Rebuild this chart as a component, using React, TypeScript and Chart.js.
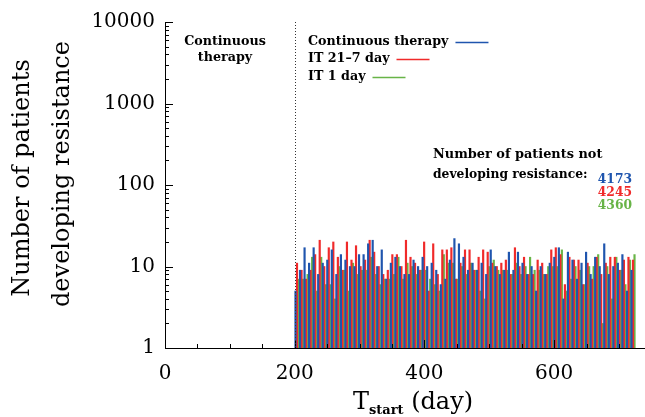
import React, { useEffect, useRef } from 'react';
import { Chart, registerables } from 'chart.js';
Chart.register(...registerables);

// T_start (day) of each 7-day bin
const tStart = [
  200, 207, 214, 221, 228, 235, 242, 249, 256, 263, 270, 277, 284, 291, 298,
  305, 312, 319, 326, 333, 340, 347, 354, 361, 368, 375, 382, 389, 396, 403,
  410, 417, 424, 431, 438, 445, 452, 459, 466, 473, 480, 487, 494, 501, 508,
  515, 522, 529, 536, 543, 550, 557, 564, 571, 578, 585, 592, 599, 606, 613,
  620, 627, 634, 641, 648, 655, 662, 669, 676, 683, 690, 697, 704, 711, 718,
];

const continuous = [
  5, 9, 17, 11, 17, 8, 11, 12, 16, 8, 14, 12, 10, 10, 14,
  14, 19, 21, 10, 16, 7, 11, 13, 10, 8, 8, 12, 10, 13, 10,
  11, 9, 6, 7, 12, 22, 19, 13, 9, 11, 9, 11, 8, 16, 10,
  8, 9, 15, 9, 15, 11, 8, 10, 5, 10, 8, 11, 13, 17, 4,
  15, 12, 7, 11, 15, 8, 13, 10, 19, 8, 10, 11, 14, 5, 9,
];

const it21_7 = [
  11, 9, 7, 9, 14, 21, 10, 17, 20, 13, 9, 20, 12, 18, 10,
  12, 21, 15, 10, 8, 9, 14, 14, 10, 21, 13, 11, 9, 20, 5,
  19, 8, 16, 16, 17, 7, 11, 16, 16, 9, 13, 16, 15, 11, 10,
  11, 12, 8, 17, 10, 13, 8, 8, 12, 11, 8, 16, 17, 14, 6,
  13, 12, 12, 6, 11, 7, 13, 8, 11, 13, 13, 9, 12, 13, 12,
];

const it1 = [
  7, 7, 8, 13, 5, 13, 6, 6, 4, 10, 9, 5, 11, 8, 9,
  9, 13, 8, 6, 7, 7, 8, 13, 7, 11, 10, 8, 9, 9, 7,
  6, 5, 14, 11, 11, 7, 10, 8, 11, 9, 5, 4, 10, 12, 9,
  9, 9, 8, 11, 8, 10, 13, 9, 9, 8, 10, 10, 10, 16, 5,
  7, 10, 9, 6, 10, 10, 14, 2, 10, 4, 13, 9, 6, 12, 14,
];

const seriesLabels = ['Continuous therapy', 'IT 21\u20137 day', 'IT 1 day'];
const notResistant = ['4173', '4245', '4360'];
const xTicks = [0, 200, 400, 600];
const yTicks = [1, 10, 100, 1000, 10000];
const switchDay = 200;

const BLUE = '#1f55ae';
const RED = '#f02a2a';
const GREEN = '#68b447';
const COLORS = [BLUE, RED, GREEN];

const SERIF = '"DejaVu Serif", "Liberation Serif", serif';
const BINW = 7;

const decorPlugin = {
  id: 'decor',
  afterDraw(chart: any) {
    const ctx = chart.ctx as CanvasRenderingContext2D;
    const { left, right, top, bottom } = chart.chartArea;
    const xs = chart.scales.x;
    const ys = chart.scales.y;
    ctx.save();
    ctx.strokeStyle = '#000';
    ctx.lineWidth = 1;
    // axes
    ctx.beginPath();
    ctx.moveTo(left + 0.5, top);
    ctx.lineTo(left + 0.5, bottom + 0.5);
    ctx.lineTo(right, bottom + 0.5);
    ctx.stroke();
    // y ticks
    ctx.beginPath();
    for (let k = 0; k < 4; k++) {
      for (let m = 1; m <= 10; m++) {
        const v = m * Math.pow(10, k);
        const py = Math.round(ys.getPixelForValue(v)) + 0.5;
        const len = m === 1 || m === 10 ? 8 : 4;
        ctx.moveTo(left, py);
        ctx.lineTo(left + len, py);
      }
    }
    // x ticks
    for (let v = 0; v <= xs.max; v += 50) {
      const px = Math.round(xs.getPixelForValue(v)) + 0.5;
      const len = v % 200 === 0 ? 8 : 4;
      ctx.moveTo(px, bottom);
      ctx.lineTo(px, bottom - len);
    }
    ctx.stroke();
    // dotted line at switch
    const dx = Math.round(xs.getPixelForValue(switchDay)) + 0.5;
    ctx.setLineDash([1, 2]);
    ctx.strokeStyle = '#333';
    ctx.beginPath();
    ctx.moveTo(dx, top);
    ctx.lineTo(dx, bottom);
    ctx.stroke();
    ctx.setLineDash([]);

    // annotations
    const small = `bold 12.7px ${SERIF}`;
    ctx.fillStyle = '#000';
    ctx.font = small;
    ctx.textBaseline = 'middle';
    ctx.textAlign = 'center';
    ctx.fillText('Continuous', 225, 42);
    ctx.fillText('therapy', 225, 58);

    ctx.textAlign = 'left';
    const legY = [42, 59, 77];
    seriesLabels.forEach((lab, i) => {
      ctx.fillStyle = '#000';
      ctx.fillText(lab, 308, legY[i]);
      const w = ctx.measureText(lab).width;
      ctx.strokeStyle = COLORS[i];
      ctx.lineWidth = 1.5;
      ctx.beginPath();
      ctx.moveTo(308 + w + 7, legY[i] + 0.5);
      ctx.lineTo(308 + w + 40, legY[i] + 0.5);
      ctx.stroke();
    });

    ctx.fillStyle = '#000';
    ctx.font = `bold 12.9px ${SERIF}`;
    ctx.fillText('Number of patients not', 433, 155);
    ctx.font = `bold 12.3px ${SERIF}`;
    ctx.fillText('developing resistance:', 433, 175);
    ctx.textAlign = 'right';
    ctx.font = `bold 12.3px ${SERIF}`;
    const nY = [180, 193, 206];
    notResistant.forEach((t, i) => {
      ctx.fillStyle = COLORS[i];
      ctx.fillText(t, 632, nY[i]);
    });

    // y-axis title
    ctx.fillStyle = '#000';
    ctx.font = `24px ${SERIF}`;
    ctx.textAlign = 'center';
    ctx.save();
    ctx.translate(23, 178);
    ctx.rotate(-Math.PI / 2);
    ctx.fillText('Number of patients', 0, 0);
    ctx.restore();
    ctx.save();
    ctx.translate(63, 174);
    ctx.rotate(-Math.PI / 2);
    ctx.fillText('developing resistance', 0, 0);
    ctx.restore();

    // x-axis title: T_start (day)
    ctx.textAlign = 'left';
    ctx.textBaseline = 'alphabetic';
    ctx.font = `24px ${SERIF}`;
    const tW = ctx.measureText('T').width;
    ctx.font = `bold 13px ${SERIF}`;
    const sW = ctx.measureText('start').width;
    ctx.font = `24px ${SERIF}`;
    const dW = ctx.measureText(' (day)').width;
    const total = tW + sW + dW;
    const x0 = 413 - total / 2;
    ctx.fillText('T', x0, 409);
    ctx.font = `bold 13px ${SERIF}`;
    ctx.fillText('start', x0 + tW, 414);
    ctx.font = `24px ${SERIF}`;
    ctx.fillText(' (day)', x0 + tW + sW, 409);

    ctx.restore();
  },
};

export default function App() {
  const ref = useRef<HTMLCanvasElement | null>(null);
  useEffect(() => {
    document.body.style.margin = '0';
    if (!ref.current) return;
    const mk = (vals: number[]) => tStart.map((t, i) => ({ x: t + BINW / 2, y: vals[i] }));
    const ds = [continuous, it21_7, it1].map((vals, i) => ({
      label: seriesLabels[i],
      data: mk(vals),
      backgroundColor: COLORS[i],
      borderWidth: 0,
      categoryPercentage: 1,
      barPercentage: 1,
    }));
    const chart = new Chart(ref.current, {
      type: 'bar',
      data: { datasets: ds as any },
      options: {
        animation: false,
        responsive: false,
        devicePixelRatio: 1,
        layout: { padding: { top: 14, right: 0, left: 0, bottom: 0 } },
        plugins: { legend: { display: false }, tooltip: { enabled: false } },
        scales: {
          x: {
            type: 'linear',
            min: 0,
            max: 740,
            offset: false,
            grid: { display: false, drawTicks: false },
            border: { display: false },
            ticks: {
              color: '#000',
              font: { family: SERIF, size: 20 },
              padding: 14,
              maxRotation: 0,
              autoSkip: false,
            },
            afterBuildTicks: (s: any) => {
              s.ticks = xTicks.map((v) => ({ value: v }));
            },
            afterFit: (s: any) => {
              s.height = 69;
            },
          },
          y: {
            type: 'logarithmic',
            min: 1,
            max: 10000,
            grid: { display: false, drawTicks: false },
            border: { display: false },
            ticks: {
              color: '#000',
              font: { family: SERIF, size: 20 },
              padding: 10,
              autoSkip: false,
              callback: (v: any) => String(v),
            },
            afterBuildTicks: (s: any) => {
              s.ticks = yTicks.map((v) => ({ value: v }));
            },
            afterFit: (s: any) => {
              s.width = 165;
            },
          },
        },
      } as any,
      plugins: [decorPlugin],
    });
    return () => chart.destroy();
  }, []);
  return (
    <canvas
      ref={ref}
      width={645}
      height={417}
      style={{ display: 'block', position: 'absolute', left: 0, top: 0 }}
    />
  );
}
